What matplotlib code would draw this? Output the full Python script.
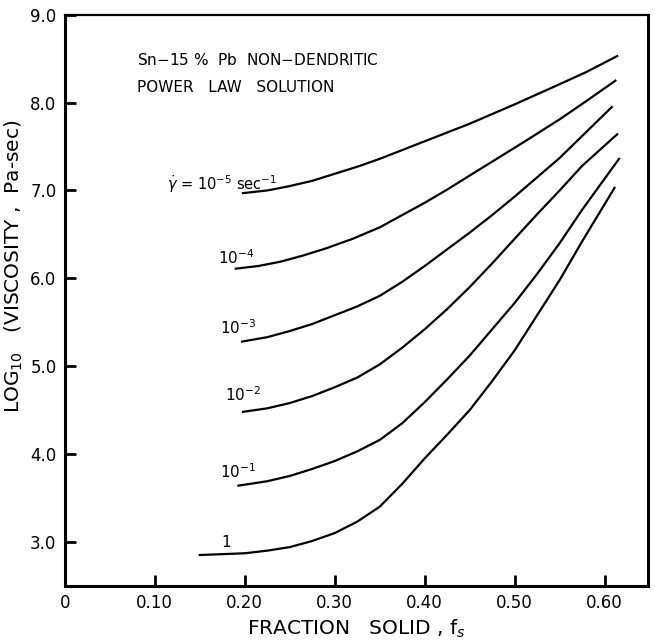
import matplotlib
matplotlib.use("Agg")
import matplotlib.pyplot as plt

# values (log10 viscosity vs fraction solid)
fs_1 = [0.15, 0.175, 0.20, 0.225, 0.25, 0.275, 0.30, 0.325, 0.35, 0.375,
        0.40, 0.425, 0.45, 0.475, 0.50, 0.525, 0.55, 0.575, 0.611]
visc_1 = [2.85, 2.86, 2.87, 2.90, 2.94, 3.01, 3.10, 3.23, 3.40, 3.66,
          3.95, 4.22, 4.50, 4.83, 5.18, 5.58, 5.98, 6.42, 7.03]

fs_m1 = [0.193, 0.225, 0.25, 0.275, 0.30, 0.325, 0.35, 0.375, 0.40, 0.425,
         0.45, 0.475, 0.50, 0.525, 0.55, 0.575, 0.616]
visc_m1 = [3.64, 3.69, 3.75, 3.83, 3.92, 4.03, 4.16, 4.35, 4.59, 4.85,
           5.12, 5.42, 5.72, 6.05, 6.40, 6.78, 7.36]

fs_m2 = [0.198, 0.225, 0.25, 0.275, 0.30, 0.325, 0.35, 0.375, 0.40, 0.425,
         0.45, 0.475, 0.50, 0.525, 0.55, 0.575, 0.614]
visc_m2 = [4.48, 4.52, 4.58, 4.66, 4.76, 4.87, 5.02, 5.21, 5.42, 5.65,
           5.90, 6.17, 6.45, 6.73, 7.00, 7.28, 7.64]

fs_m3 = [0.197, 0.225, 0.25, 0.275, 0.30, 0.325, 0.35, 0.375, 0.40, 0.425,
         0.45, 0.475, 0.50, 0.525, 0.55, 0.575, 0.608]
visc_m3 = [5.28, 5.33, 5.40, 5.48, 5.58, 5.68, 5.80, 5.96, 6.14, 6.33,
           6.52, 6.72, 6.93, 7.15, 7.37, 7.62, 7.95]

fs_m4 = [0.19, 0.215, 0.24, 0.265, 0.29, 0.32, 0.35, 0.375, 0.40, 0.425,
         0.45, 0.48, 0.51, 0.55, 0.58, 0.612]
visc_m4 = [6.11, 6.14, 6.19, 6.26, 6.34, 6.45, 6.58, 6.72, 6.86, 7.01,
           7.17, 7.36, 7.55, 7.81, 8.02, 8.25]

fs_m5 = [0.198, 0.225, 0.25, 0.275, 0.30, 0.325, 0.35, 0.375, 0.40, 0.45,
         0.50, 0.55, 0.58, 0.614]
visc_m5 = [6.97, 7.00, 7.05, 7.11, 7.19, 7.27, 7.36, 7.46, 7.56, 7.76,
           7.98, 8.21, 8.35, 8.53]

curves = [(fs_1, visc_1), (fs_m1, visc_m1), (fs_m2, visc_m2),
          (fs_m3, visc_m3), (fs_m4, visc_m4), (fs_m5, visc_m5)]

rate_labels = [r"$\dot{\gamma}$ = 10$^{-5}$ sec$^{-1}$", "10$^{-4}$", "10$^{-3}$",
               "10$^{-2}$", "10$^{-1}$", "1"]
label_pos = [(0.114, 7.07), (0.170, 6.24), (0.172, 5.44),
             (0.178, 4.68), (0.172, 3.80), (0.174, 2.99)]

xticks = [0, 0.10, 0.20, 0.30, 0.40, 0.50, 0.60]
xticklabels = ["0", "0.10", "0.20", "0.30", "0.40", "0.50", "0.60"]
yticks = [3.0, 4.0, 5.0, 6.0, 7.0, 8.0, 9.0]
yticklabels = ["3.0", "4.0", "5.0", "6.0", "7.0", "8.0", "9.0"]

fig = plt.figure(figsize=(6.55, 6.43), dpi=100)
ax = fig.add_axes([0.099, 0.089, 0.890, 0.888])

for fs, visc in curves:
    ax.plot(fs, visc, color="black", lw=1.6)

for i, (txt, (x, y)) in enumerate(zip(rate_labels, label_pos)):
    ax.text(x, y, txt, fontsize=10.5 if i == 0 else 11, ha="left", va="center")

ax.text(0.08, 8.49, "Sn$-$15 %  Pb  NON$-$DENDRITIC", fontsize=11, va="center")
ax.text(0.08, 8.17, "POWER   LAW   SOLUTION", fontsize=11, va="center")

ax.set_xlim(0, 0.648)
ax.set_ylim(2.5, 9.0)
ax.set_xticks(xticks)
ax.set_xticklabels(xticklabels)
ax.set_yticks(yticks)
ax.set_yticklabels(yticklabels)
ax.tick_params(direction="in", length=8, width=2, labelsize=12, pad=6)

for side in ["left", "bottom", "right"]:
    ax.spines[side].set_linewidth(2.2)
ax.spines["top"].set_linewidth(1.6)

ax.set_xlabel("FRACTION   SOLID , f$_s$", fontsize=14.5, labelpad=4)
ax.set_ylabel("LOG$_{10}$   (VISCOSITY ,  Pa-sec)", fontsize=14.5, labelpad=2)
ax.yaxis.set_label_coords(-0.068, 0.56)

fig.savefig("out.png", dpi=100)
